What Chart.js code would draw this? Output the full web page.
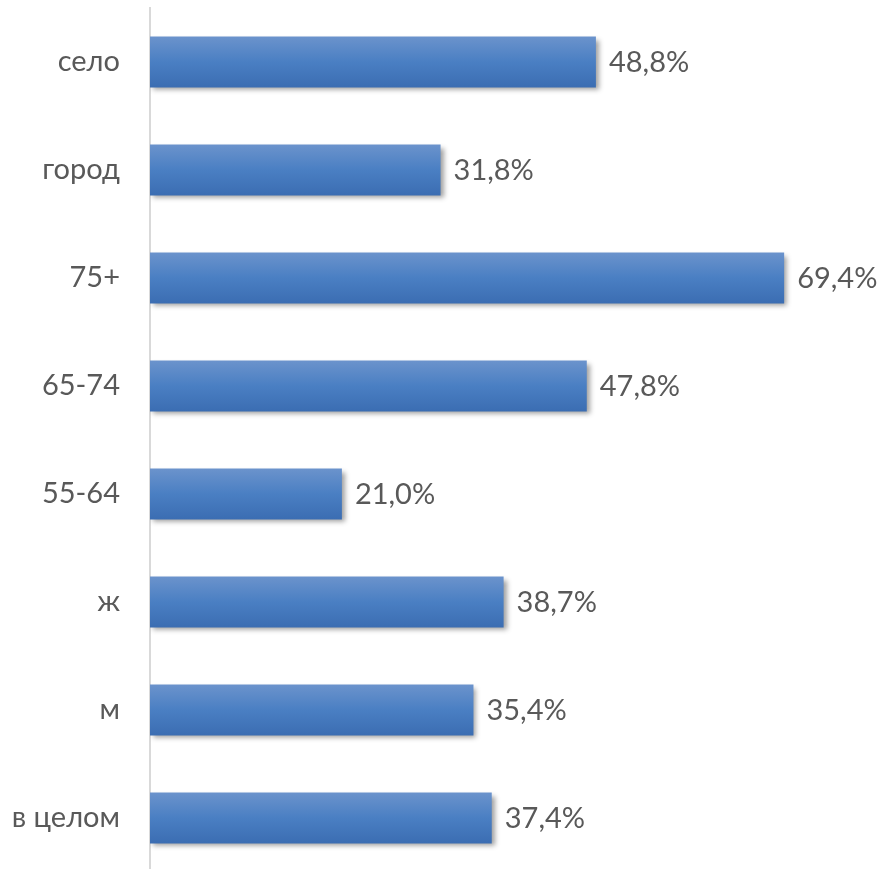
<!DOCTYPE html>
<html><head><meta charset="utf-8">
<script src="https://cdn.jsdelivr.net/npm/chart.js@4/dist/chart.umd.min.js"></script>
<style>html,body{margin:0;padding:0;overflow:hidden;background:#fff}#wrap{width:883px;height:872px}</style>
</head><body><div id="wrap"><canvas id="c"></canvas></div>
<script>
const categories = ["село", "город", "75+", "65-74", "55-64", "ж", "м", "в целом"];
const values = [48.8, 31.8, 69.4, 47.8, 21.0, 38.7, 35.4, 37.4];

const FONT = "Lato, 'Open Sans', sans-serif";
const BAR_PCT = 0.472;

function barGradient(ctx) {
  const chart = ctx.chart;
  const ys = chart.scales && chart.scales.y;
  if (!ys || !chart.chartArea) return '#4a7ec2';
  const cy = ys.getPixelForValue(ctx.dataIndex);
  const band = (ys.bottom - ys.top) / categories.length;
  const half = band * BAR_PCT / 2;
  const g = chart.ctx.createLinearGradient(0, cy - half, 0, cy + half);
  g.addColorStop(0, '#6b93cc');
  g.addColorStop(0.5, '#4a7fc3');
  g.addColorStop(1, '#3b6db2');
  return g;
}

const shadowPlugin = {
  id: 'shadow',
  beforeDatasetDraw(chart) {
    const c = chart.ctx; c.save();
    c.shadowColor = 'rgba(0,0,0,0.38)';
    c.shadowBlur = 5; c.shadowOffsetX = 3; c.shadowOffsetY = 3;
  },
  afterDatasetDraw(chart) { chart.ctx.restore(); }
};

const labelPlugin = {
  id: 'vlabels',
  afterDatasetsDraw(chart) {
    const c = chart.ctx;
    const meta = chart.getDatasetMeta(0);
    c.save();
    c.font = "29px " + FONT;
    c.fillStyle = '#595959';
    c.textAlign = 'left'; c.textBaseline = 'middle';
    meta.data.forEach((el, i) => {
      const t = values[i].toFixed(1).replace('.', ',') + '%';
      c.fillText(t, el.x + 13, el.y + 1);
    });
    c.restore();
  }
};

new Chart(document.getElementById('c'), {
  type: 'bar',
  data: { labels: categories, datasets: [{ data: values, backgroundColor: barGradient, borderWidth: 0, barPercentage: BAR_PCT, categoryPercentage: 1 }] },
  plugins: [shadowPlugin, labelPlugin],
  options: {
    indexAxis: 'y', responsive: true, maintainAspectRatio: false, animation: false,
    layout: { padding: { top: 8, right: 2, bottom: 0, left: 0 } },
    plugins: { legend: { display: false }, tooltip: { enabled: false } },
    scales: {
      x: { display: false, min: 0, max: 80 },
      y: {
        grid: { display: false, drawTicks: false },
        border: { display: true, color: '#d9d9d9', width: 2 },
        ticks: { color: '#595959', font: { family: FONT, size: 29 }, padding: 30 },
        afterFit(s) { s.width = 150; s.paddingTop = 0; s.paddingBottom = 0; }
      }
    }
  }
});
</script></body></html>
